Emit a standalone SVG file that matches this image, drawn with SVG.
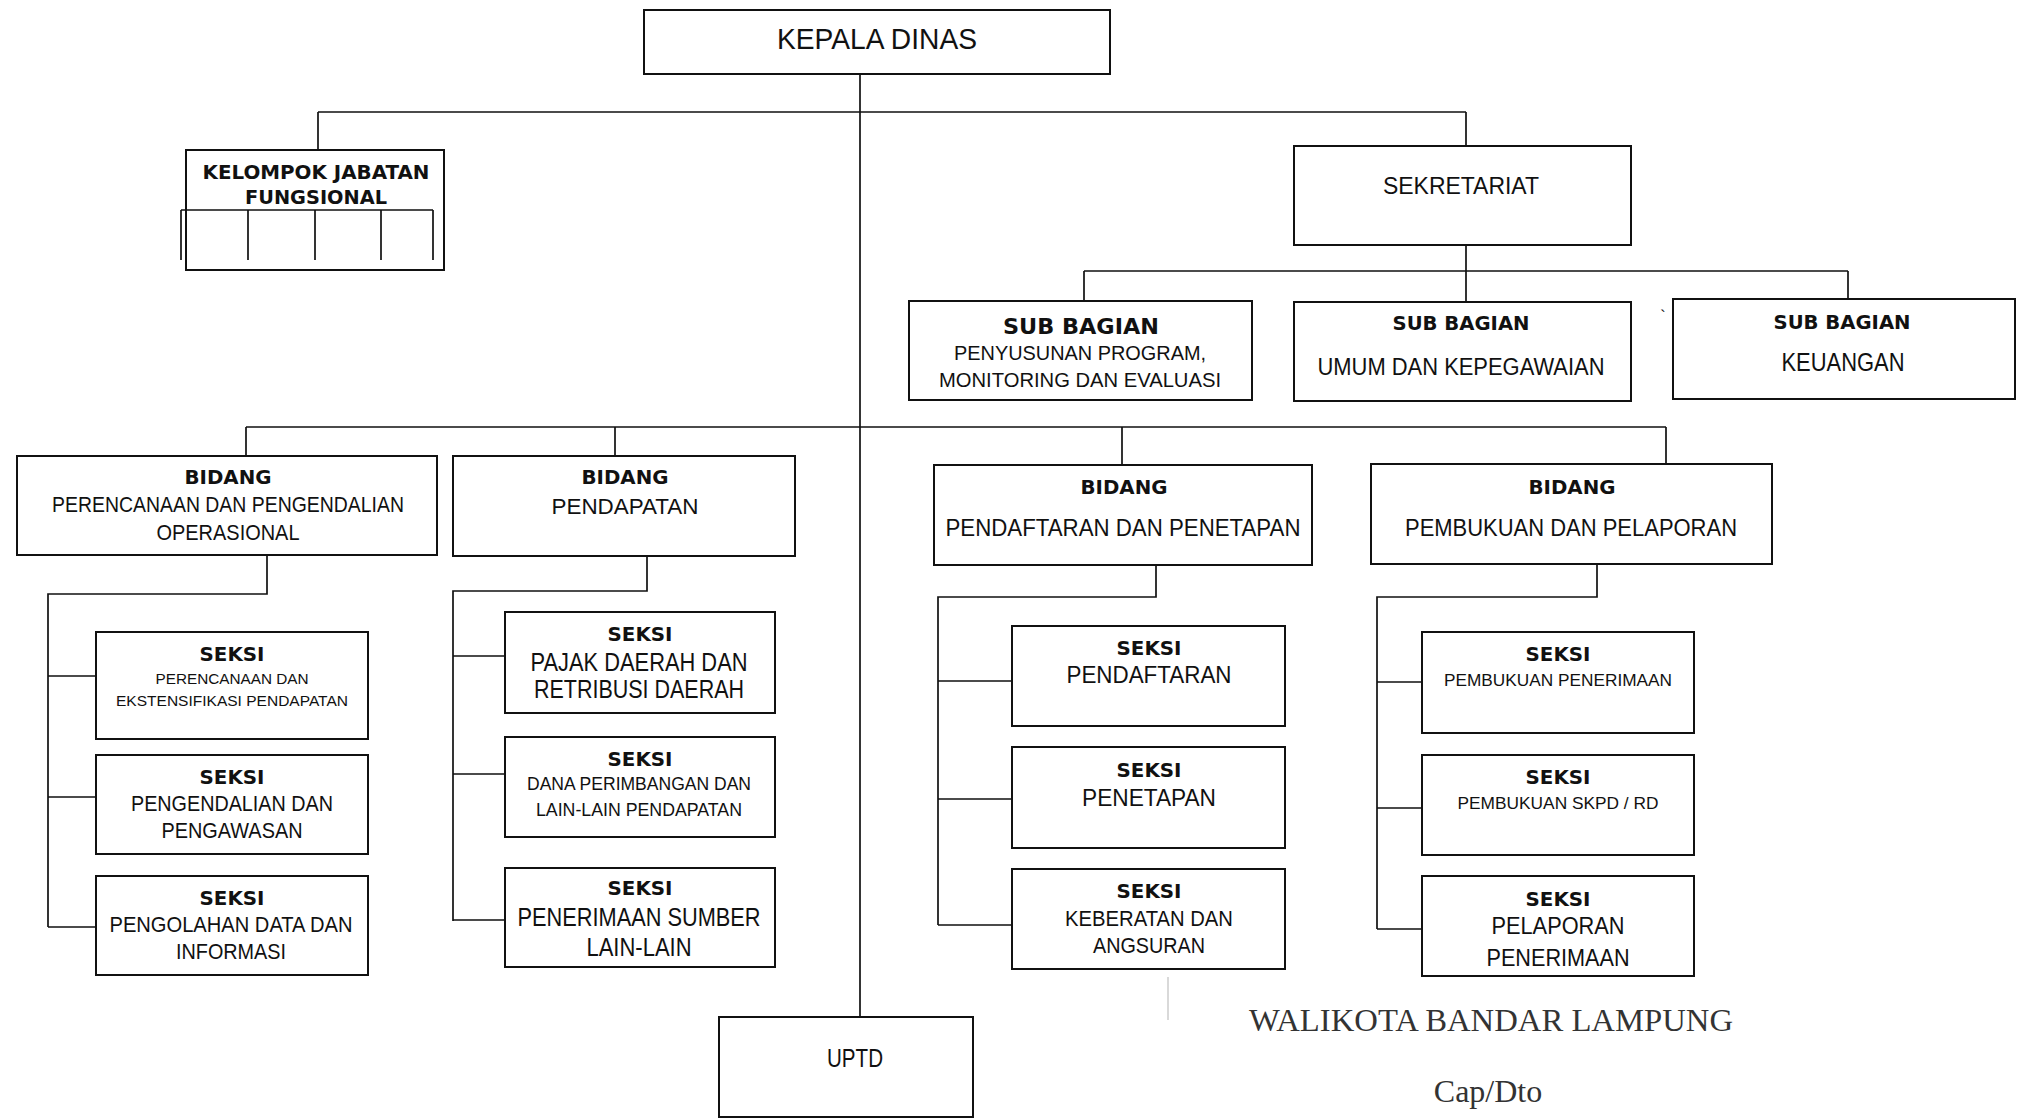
<svg xmlns="http://www.w3.org/2000/svg" width="2024" height="1118" viewBox="0 0 2024 1118">
<style>
.box{fill:#fff;stroke:#111;stroke-width:2}
.ln{stroke:#111;stroke-width:1.7;fill:none}
.r{font-family:"Liberation Sans Narrow","Liberation Sans",Arial,sans-serif;fill:#111;text-anchor:middle}
.b{font-family:"DejaVu Sans","Liberation Sans",sans-serif;font-weight:bold;fill:#111;text-anchor:middle}
.t{font-family:"Liberation Serif","Times New Roman",serif;fill:#333;text-anchor:middle;font-size:32px}
</style>
<rect width="2024" height="1118" fill="#fff"/>
<g id="connectors">
<path class="ln" d="M860 74V1017"/>
<path class="ln" d="M318 112H1466M318 112V149M1466 112V146"/>
<path class="ln" d="M1466 245V301M1084 271H1848M1084 271V301M1848 271V299"/>
<path class="ln" d="M246 427H1666M246 427V456M615 427V456M1122 427V465M1666 427V464"/>
<path class="ln" d="M267 555V594H48V927M48 676H96M48 797H96M48 927H96"/>
<path class="ln" d="M647 556V591H453V921M453 656H505M453 774H505M453 920H505"/>
<path class="ln" d="M1156 565V597H938V925M938 681H1012M938 799H1012M938 925H1012"/>
<path class="ln" d="M1597 564V597H1377V929M1377 682H1422M1377 808H1422M1377 929H1422"/>
<path d="M1168 977V1020" stroke="#ccc" stroke-width="1.5"/>
</g>
<g id="kepala-dinas">
<rect class="box" x="644" y="10" width="466" height="64"/>
<text class="r" x="877" y="49" font-size="29" textLength="200" lengthAdjust="spacingAndGlyphs">KEPALA DINAS</text>
</g>
<g id="kelompok-jabatan-fungsional">
<rect class="box" x="186" y="150" width="258" height="120"/>
<path class="ln" d="M181 210H433M181 210V260M248 210V260M315 210V260M381 210V260M433 210V260"/>
<text class="b" x="316" y="179" font-size="19.5" textLength="227" lengthAdjust="spacingAndGlyphs">KELOMPOK JABATAN</text>
<text class="b" x="316" y="204" font-size="19.5" textLength="142" lengthAdjust="spacingAndGlyphs">FUNGSIONAL</text>
</g>
<g id="sekretariat">
<rect class="box" x="1294" y="146" width="337" height="99"/>
<text class="r" x="1461" y="194" font-size="23" textLength="156" lengthAdjust="spacingAndGlyphs">SEKRETARIAT</text>
</g>
<g id="sub-bagian-program">
<rect class="box" x="909" y="301" width="343" height="99"/>
<text class="b" x="1081" y="334" font-size="22" textLength="156" lengthAdjust="spacingAndGlyphs">SUB BAGIAN</text>
<text class="r" x="1080" y="360" font-size="21" textLength="252" lengthAdjust="spacingAndGlyphs">PENYUSUNAN PROGRAM,</text>
<text class="r" x="1080" y="387" font-size="21" textLength="282" lengthAdjust="spacingAndGlyphs">MONITORING DAN EVALUASI</text>
</g>
<g id="sub-bagian-umum">
<rect class="box" x="1294" y="302" width="337" height="99"/>
<text class="b" x="1461" y="330" font-size="20" textLength="137" lengthAdjust="spacingAndGlyphs">SUB BAGIAN</text>
<text class="r" x="1461" y="375" font-size="23" textLength="287" lengthAdjust="spacingAndGlyphs">UMUM DAN KEPEGAWAIAN</text>
</g>
<g id="sub-bagian-keuangan">
<rect class="box" x="1673" y="299" width="342" height="100"/>
<text class="b" x="1842" y="329" font-size="20" textLength="137" lengthAdjust="spacingAndGlyphs">SUB BAGIAN</text>
<text class="r" x="1843" y="371" font-size="25" textLength="123" lengthAdjust="spacingAndGlyphs">KEUANGAN</text>
<text class="r" x="1663" y="322" font-size="16">`</text>
</g>
<g id="bidang-perencanaan">
<rect class="box" x="17" y="456" width="420" height="99"/>
<text class="b" x="228" y="484" font-size="19" textLength="87" lengthAdjust="spacingAndGlyphs">BIDANG</text>
<text class="r" x="228" y="512" font-size="22" textLength="352" lengthAdjust="spacingAndGlyphs">PERENCANAAN DAN PENGENDALIAN</text>
<text class="r" x="228" y="540" font-size="22" textLength="143" lengthAdjust="spacingAndGlyphs">OPERASIONAL</text>
</g>
<g id="bidang-pendapatan">
<rect class="box" x="453" y="456" width="342" height="100"/>
<text class="b" x="625" y="484" font-size="19" textLength="87" lengthAdjust="spacingAndGlyphs">BIDANG</text>
<text class="r" x="625" y="514" font-size="22" textLength="147" lengthAdjust="spacingAndGlyphs">PENDAPATAN</text>
</g>
<g id="bidang-pendaftaran">
<rect class="box" x="934" y="465" width="378" height="100"/>
<text class="b" x="1124" y="494" font-size="19" textLength="87" lengthAdjust="spacingAndGlyphs">BIDANG</text>
<text class="r" x="1123" y="536" font-size="23" textLength="355" lengthAdjust="spacingAndGlyphs">PENDAFTARAN DAN PENETAPAN</text>
</g>
<g id="bidang-pembukuan">
<rect class="box" x="1371" y="464" width="401" height="100"/>
<text class="b" x="1572" y="494" font-size="19" textLength="87" lengthAdjust="spacingAndGlyphs">BIDANG</text>
<text class="r" x="1571" y="536" font-size="23" textLength="332" lengthAdjust="spacingAndGlyphs">PEMBUKUAN DAN PELAPORAN</text>
</g>
<g id="seksi-perencanaan">
<rect class="box" x="96" y="632" width="272" height="107"/>
<text class="b" x="232" y="661" font-size="20" textLength="65" lengthAdjust="spacingAndGlyphs">SEKSI</text>
<text class="r" x="232" y="683.5" font-size="15.5" textLength="153" lengthAdjust="spacingAndGlyphs">PERENCANAAN DAN</text>
<text class="r" x="232" y="706" font-size="15.5" textLength="232" lengthAdjust="spacingAndGlyphs">EKSTENSIFIKASI PENDAPATAN</text>
</g>
<g id="seksi-pengendalian">
<rect class="box" x="96" y="755" width="272" height="99"/>
<text class="b" x="232" y="784" font-size="20" textLength="65" lengthAdjust="spacingAndGlyphs">SEKSI</text>
<text class="r" x="232" y="811" font-size="22" textLength="202" lengthAdjust="spacingAndGlyphs">PENGENDALIAN DAN</text>
<text class="r" x="232" y="838" font-size="22" textLength="141" lengthAdjust="spacingAndGlyphs">PENGAWASAN</text>
</g>
<g id="seksi-pengolahan">
<rect class="box" x="96" y="876" width="272" height="99"/>
<text class="b" x="232" y="905" font-size="20" textLength="65" lengthAdjust="spacingAndGlyphs">SEKSI</text>
<text class="r" x="231" y="932" font-size="22" textLength="243" lengthAdjust="spacingAndGlyphs">PENGOLAHAN DATA DAN</text>
<text class="r" x="231" y="959" font-size="22" textLength="110" lengthAdjust="spacingAndGlyphs">INFORMASI</text>
</g>
<g id="seksi-pajak">
<rect class="box" x="505" y="612" width="270" height="101"/>
<text class="b" x="640" y="641" font-size="20" textLength="65" lengthAdjust="spacingAndGlyphs">SEKSI</text>
<text class="r" x="639" y="671" font-size="25" textLength="217" lengthAdjust="spacingAndGlyphs">PAJAK DAERAH DAN</text>
<text class="r" x="639" y="698" font-size="25" textLength="210" lengthAdjust="spacingAndGlyphs">RETRIBUSI DAERAH</text>
</g>
<g id="seksi-dana">
<rect class="box" x="505" y="737" width="270" height="100"/>
<text class="b" x="640" y="766" font-size="20" textLength="65" lengthAdjust="spacingAndGlyphs">SEKSI</text>
<text class="r" x="639" y="790" font-size="18.5" textLength="224" lengthAdjust="spacingAndGlyphs">DANA PERIMBANGAN DAN</text>
<text class="r" x="639" y="816" font-size="18.5" textLength="206" lengthAdjust="spacingAndGlyphs">LAIN-LAIN PENDAPATAN</text>
</g>
<g id="seksi-penerimaan-sumber">
<rect class="box" x="505" y="868" width="270" height="99"/>
<text class="b" x="640" y="895" font-size="20" textLength="65" lengthAdjust="spacingAndGlyphs">SEKSI</text>
<text class="r" x="639" y="926" font-size="25" textLength="243" lengthAdjust="spacingAndGlyphs">PENERIMAAN SUMBER</text>
<text class="r" x="639" y="956" font-size="25" textLength="105" lengthAdjust="spacingAndGlyphs">LAIN-LAIN</text>
</g>
<g id="seksi-pendaftaran">
<rect class="box" x="1012" y="626" width="273" height="100"/>
<text class="b" x="1149" y="655" font-size="20" textLength="65" lengthAdjust="spacingAndGlyphs">SEKSI</text>
<text class="r" x="1149" y="683" font-size="23" textLength="165" lengthAdjust="spacingAndGlyphs">PENDAFTARAN</text>
</g>
<g id="seksi-penetapan">
<rect class="box" x="1012" y="747" width="273" height="101"/>
<text class="b" x="1149" y="777" font-size="20" textLength="65" lengthAdjust="spacingAndGlyphs">SEKSI</text>
<text class="r" x="1149" y="806" font-size="23" textLength="134" lengthAdjust="spacingAndGlyphs">PENETAPAN</text>
</g>
<g id="seksi-keberatan">
<rect class="box" x="1012" y="869" width="273" height="100"/>
<text class="b" x="1149" y="898" font-size="20" textLength="65" lengthAdjust="spacingAndGlyphs">SEKSI</text>
<text class="r" x="1149" y="926" font-size="22" textLength="168" lengthAdjust="spacingAndGlyphs">KEBERATAN DAN</text>
<text class="r" x="1149" y="953" font-size="22" textLength="112" lengthAdjust="spacingAndGlyphs">ANGSURAN</text>
</g>
<g id="seksi-pembukuan-penerimaan">
<rect class="box" x="1422" y="632" width="272" height="101"/>
<text class="b" x="1558" y="661" font-size="20" textLength="65" lengthAdjust="spacingAndGlyphs">SEKSI</text>
<text class="r" x="1558" y="686" font-size="17" textLength="228" lengthAdjust="spacingAndGlyphs">PEMBUKUAN PENERIMAAN</text>
</g>
<g id="seksi-pembukuan-skpd">
<rect class="box" x="1422" y="755" width="272" height="100"/>
<text class="b" x="1558" y="784" font-size="20" textLength="65" lengthAdjust="spacingAndGlyphs">SEKSI</text>
<text class="r" x="1558" y="808.5" font-size="17" textLength="201" lengthAdjust="spacingAndGlyphs">PEMBUKUAN SKPD / RD</text>
</g>
<g id="seksi-pelaporan">
<rect class="box" x="1422" y="876" width="272" height="100"/>
<text class="b" x="1558" y="906" font-size="20" textLength="65" lengthAdjust="spacingAndGlyphs">SEKSI</text>
<text class="r" x="1558" y="934" font-size="24" textLength="133" lengthAdjust="spacingAndGlyphs">PELAPORAN</text>
<text class="r" x="1558" y="966" font-size="24" textLength="143" lengthAdjust="spacingAndGlyphs">PENERIMAAN</text>
</g>
<g id="uptd">
<rect class="box" x="719" y="1017" width="254" height="100"/>
<text class="r" x="855" y="1067" font-size="25" textLength="56" lengthAdjust="spacingAndGlyphs">UPTD</text>
</g>
<g id="signature">
<text class="t" x="1491" y="1031" textLength="484" lengthAdjust="spacingAndGlyphs">WALIKOTA BANDAR LAMPUNG</text>
<text class="t" x="1488" y="1102">Cap/Dto</text>
</g>
</svg>
